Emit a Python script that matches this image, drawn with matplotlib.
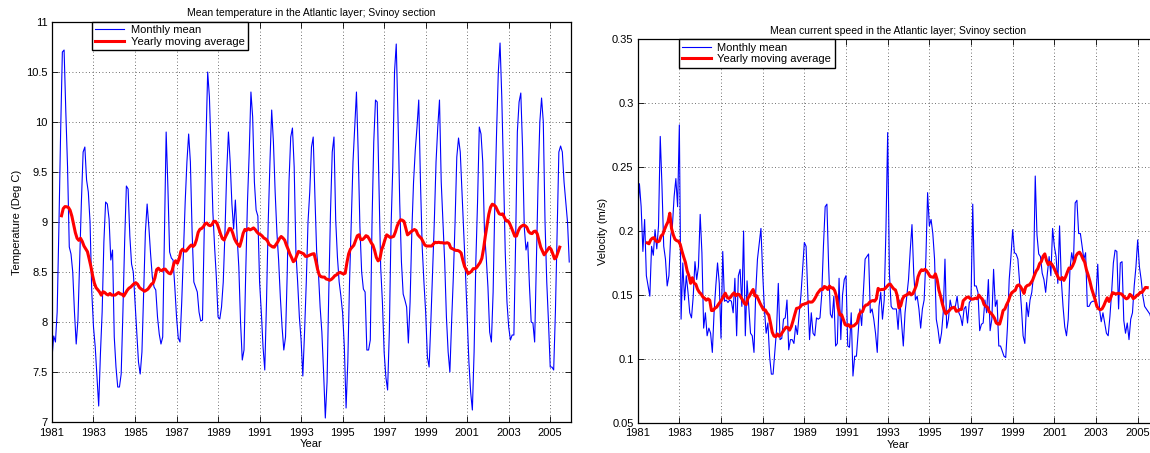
import numpy as np
import matplotlib
matplotlib.use('Agg')
import matplotlib.pyplot as plt
from matplotlib.ticker import FuncFormatter

plt.rcParams['font.family'] = ['Liberation Sans', 'DejaVu Sans']

# Monthly means, one row per year, Jan..Dec, starting 1981
ANIO_INICIO = 1981

temp_mensual = [
    [7.64, 7.86, 7.80, 8.10, 8.95, 9.90, 10.70, 10.72, 10.10, 9.55, 8.75, 8.68],   # 1981
    [8.50, 8.10, 7.78, 8.02, 8.60, 9.20, 9.70, 9.75, 9.42, 9.30, 9.00, 8.30],      # 1982
    [7.95, 7.75, 7.45, 7.16, 7.68, 8.10, 8.80, 9.20, 9.18, 9.03, 8.62, 8.72],      # 1983
    [7.85, 7.55, 7.35, 7.35, 7.48, 8.10, 8.80, 9.36, 9.33, 8.86, 8.58, 8.50],      # 1984
    [8.20, 7.90, 7.60, 7.48, 7.70, 8.30, 8.90, 9.18, 8.95, 8.68, 8.45, 8.35],      # 1985
    [8.32, 8.05, 7.88, 7.78, 7.85, 8.90, 9.90, 9.35, 8.70, 8.64, 8.62, 8.35],      # 1986
    [8.05, 7.84, 7.80, 8.20, 8.70, 9.20, 9.60, 9.88, 9.60, 8.90, 8.40, 8.35],      # 1987
    [8.30, 8.10, 8.01, 8.02, 8.90, 9.80, 10.50, 10.25, 9.70, 9.10, 8.75, 8.45],    # 1988
    [8.05, 8.03, 8.15, 8.40, 8.90, 9.50, 9.90, 9.60, 9.18, 8.93, 9.22, 8.86],      # 1989
    [8.55, 8.00, 7.62, 7.72, 8.50, 9.20, 9.69, 10.30, 10.05, 9.40, 9.12, 9.06],    # 1990
    [8.40, 8.10, 7.75, 7.52, 8.20, 9.00, 9.60, 10.12, 9.80, 9.30, 8.90, 8.62],     # 1991
    [8.25, 7.95, 7.72, 7.85, 8.50, 9.40, 9.85, 9.94, 9.55, 8.70, 8.40, 8.05],      # 1992
    [7.82, 7.46, 7.90, 8.40, 9.00, 9.30, 9.75, 9.85, 9.25, 8.70, 8.50, 8.15],      # 1993
    [7.90, 7.50, 7.04, 7.40, 8.30, 9.10, 9.70, 9.85, 9.02, 8.65, 8.40, 8.26],      # 1994
    [8.09, 7.75, 7.14, 7.60, 8.40, 9.00, 9.60, 9.95, 10.30, 9.70, 8.95, 8.50],     # 1995
    [8.33, 8.30, 7.72, 7.72, 7.82, 9.00, 9.80, 10.22, 10.20, 9.36, 8.55, 8.20],    # 1996
    [7.70, 7.45, 7.32, 7.90, 8.95, 9.55, 10.50, 10.78, 10.05, 9.20, 8.60, 8.28],   # 1997
    [8.22, 8.15, 7.79, 8.20, 8.90, 9.40, 9.72, 9.95, 10.22, 9.40, 8.75, 8.40],     # 1998
    [8.10, 7.65, 7.55, 8.00, 8.50, 9.00, 9.60, 9.95, 10.22, 9.40, 9.00, 8.60],     # 1999
    [8.05, 7.70, 7.50, 8.00, 8.45, 9.00, 9.65, 9.84, 9.70, 9.30, 8.90, 8.50],      # 2000
    [8.05, 7.60, 7.30, 7.12, 7.70, 8.60, 9.20, 9.95, 9.88, 9.60, 8.90, 8.65],      # 2001
    [8.35, 7.90, 7.80, 8.30, 9.20, 9.90, 10.50, 10.79, 10.25, 9.50, 8.70, 8.20],   # 2002
    [7.95, 7.82, 7.87, 7.87, 8.80, 9.90, 10.20, 10.29, 9.75, 8.95, 8.72, 8.80],    # 2003
    [8.36, 8.00, 7.99, 7.80, 8.60, 9.40, 10.00, 10.24, 10.00, 9.00, 8.40, 8.00],   # 2004
    [7.55, 7.55, 7.52, 8.10, 8.90, 9.70, 9.76, 9.70, 9.40, 9.20, 9.00, 8.60],      # 2005
]

vel_mensual = [
    [0.212, 0.237, 0.219, 0.184, 0.209, 0.165, 0.157, 0.149, 0.188, 0.181, 0.201, 0.186],   # 1981
    [0.204, 0.274, 0.235, 0.188, 0.178, 0.157, 0.165, 0.196, 0.204, 0.227, 0.241, 0.219],   # 1982
    [0.283, 0.131, 0.175, 0.146, 0.165, 0.152, 0.136, 0.132, 0.149, 0.176, 0.162, 0.172],   # 1983
    [0.213, 0.183, 0.124, 0.136, 0.118, 0.124, 0.120, 0.105, 0.136, 0.157, 0.175, 0.159],   # 1984
    [0.116, 0.184, 0.145, 0.146, 0.144, 0.146, 0.145, 0.136, 0.163, 0.118, 0.165, 0.170],   # 1985
    [0.141, 0.200, 0.118, 0.161, 0.140, 0.120, 0.118, 0.105, 0.152, 0.178, 0.190, 0.202],   # 1986
    [0.167, 0.139, 0.120, 0.128, 0.102, 0.088, 0.088, 0.105, 0.123, 0.159, 0.115, 0.116],   # 1987
    [0.131, 0.132, 0.146, 0.107, 0.115, 0.115, 0.112, 0.126, 0.119, 0.135, 0.149, 0.170],   # 1988
    [0.191, 0.188, 0.150, 0.115, 0.136, 0.120, 0.118, 0.132, 0.131, 0.132, 0.150, 0.188],   # 1989
    [0.219, 0.221, 0.172, 0.135, 0.132, 0.149, 0.110, 0.112, 0.163, 0.115, 0.150, 0.162],   # 1990
    [0.165, 0.110, 0.109, 0.136, 0.0865, 0.102, 0.102, 0.120, 0.139, 0.126, 0.152, 0.178],  # 1991
    [0.180, 0.182, 0.136, 0.139, 0.131, 0.120, 0.105, 0.141, 0.152, 0.131, 0.146, 0.201],   # 1992
    [0.277, 0.167, 0.141, 0.139, 0.139, 0.139, 0.123, 0.146, 0.128, 0.110, 0.136, 0.149],   # 1993
    [0.162, 0.185, 0.205, 0.167, 0.146, 0.149, 0.139, 0.124, 0.139, 0.146, 0.178, 0.230],   # 1994
    [0.204, 0.209, 0.198, 0.178, 0.131, 0.123, 0.112, 0.120, 0.136, 0.178, 0.124, 0.131],   # 1995
    [0.146, 0.139, 0.141, 0.141, 0.149, 0.136, 0.133, 0.126, 0.139, 0.141, 0.128, 0.144],   # 1996
    [0.146, 0.221, 0.157, 0.157, 0.152, 0.122, 0.127, 0.128, 0.146, 0.136, 0.162, 0.122],   # 1997
    [0.131, 0.170, 0.141, 0.146, 0.110, 0.110, 0.106, 0.102, 0.101, 0.125, 0.162, 0.180],   # 1998
    [0.201, 0.183, 0.182, 0.178, 0.160, 0.141, 0.118, 0.112, 0.144, 0.133, 0.146, 0.152],   # 1999
    [0.165, 0.243, 0.197, 0.182, 0.180, 0.167, 0.162, 0.152, 0.167, 0.180, 0.165, 0.202],   # 2000
    [0.188, 0.180, 0.159, 0.204, 0.162, 0.141, 0.125, 0.118, 0.131, 0.170, 0.183, 0.175],   # 2001
    [0.222, 0.224, 0.198, 0.198, 0.188, 0.178, 0.183, 0.141, 0.141, 0.144, 0.145, 0.145],   # 2002
    [0.150, 0.174, 0.139, 0.129, 0.136, 0.128, 0.120, 0.118, 0.133, 0.152, 0.175, 0.185],   # 2003
    [0.184, 0.139, 0.175, 0.176, 0.130, 0.120, 0.128, 0.115, 0.131, 0.136, 0.157, 0.172],   # 2004
    [0.193, 0.172, 0.162, 0.149, 0.141, 0.139, 0.137, 0.135, 0.130, 0.160, 0.180, 0.170],   # 2005
]

anios_ticks = list(range(1981, 2006, 2))
temp_ticks = [7, 7.5, 8, 8.5, 9, 9.5, 10, 10.5, 11]
vel_ticks = [0.05, 0.1, 0.15, 0.2, 0.25, 0.3, 0.35]


def serie(filas):
    v = np.array(filas, dtype=float).ravel()
    t = ANIO_INICIO + np.arange(len(v)) / 12.0
    return t, v


def media_movil_anual(t, v):
    # 12-month running mean, plotted at the centre of each window
    w = np.ones(12) / 12.0
    return np.convolve(t, w, mode='valid'), np.convolve(v, w, mode='valid')


def estilo_ejes(ax, yticks, ylim):
    ax.set_xlim(1981, 2006)
    ax.set_ylim(*ylim)
    ax.set_xticks(anios_ticks)
    ax.set_yticks(yticks)
    ax.yaxis.set_major_formatter(FuncFormatter(lambda y, _: f'{y:g}'))
    ax.tick_params(direction='in', top=True, right=True, length=4, width=0.6,
                   labelsize=8)
    ax.tick_params(axis='x', pad=4)
    ax.tick_params(axis='y', pad=3)
    ax.grid(True, linestyle=(0, (1, 3)), color='0.25', linewidth=0.6)
    for s in ax.spines.values():
        s.set_linewidth(0.9)


fig = plt.figure(figsize=(11.5, 4.53), dpi=100)
ax1 = fig.add_axes([0.0452, 0.0684, 0.4513, 0.8830])
ax2 = fig.add_axes([0.5545, 0.0669, 0.4529, 0.8464])

paneles = [
    (ax1, temp_mensual, temp_ticks, (7, 11), 'Temperature (Deg C)',
     'Mean temperature in the Atlantic layer; Svinoy section', 0.0765),
    (ax2, vel_mensual, vel_ticks, (0.05, 0.35), 'Velocity (m/s)',
     'Mean current speed in the Atlantic layer; Svinoy section', 0.0785),
]

for ax, datos, yticks, ylim, ylab, titulo, x_leyenda in paneles:
    t, v = serie(datos)
    tm, vm = media_movil_anual(t, v)
    ax.plot(t, v, color='#0000ff', linewidth=0.8, label='Monthly mean')
    ax.plot(tm, vm, color='#ff0000', linewidth=2.2, label='Yearly moving average')
    estilo_ejes(ax, yticks, ylim)
    ax.set_xlabel('Year', fontsize=8, labelpad=1)
    ax.set_ylabel(ylab, fontsize=8, labelpad=3)
    ax.set_title(titulo, fontsize=7.5, pad=4)
    leg = ax.legend(loc='upper left', bbox_to_anchor=(x_leyenda, 1.0),
                    borderaxespad=0, fontsize=8, fancybox=False, framealpha=1,
                    edgecolor='black', handlelength=2.6, borderpad=0.3,
                    labelspacing=0.15, handletextpad=0.6)
    leg.get_frame().set_linewidth(1.0)

fig.savefig('out.png', dpi=100)
